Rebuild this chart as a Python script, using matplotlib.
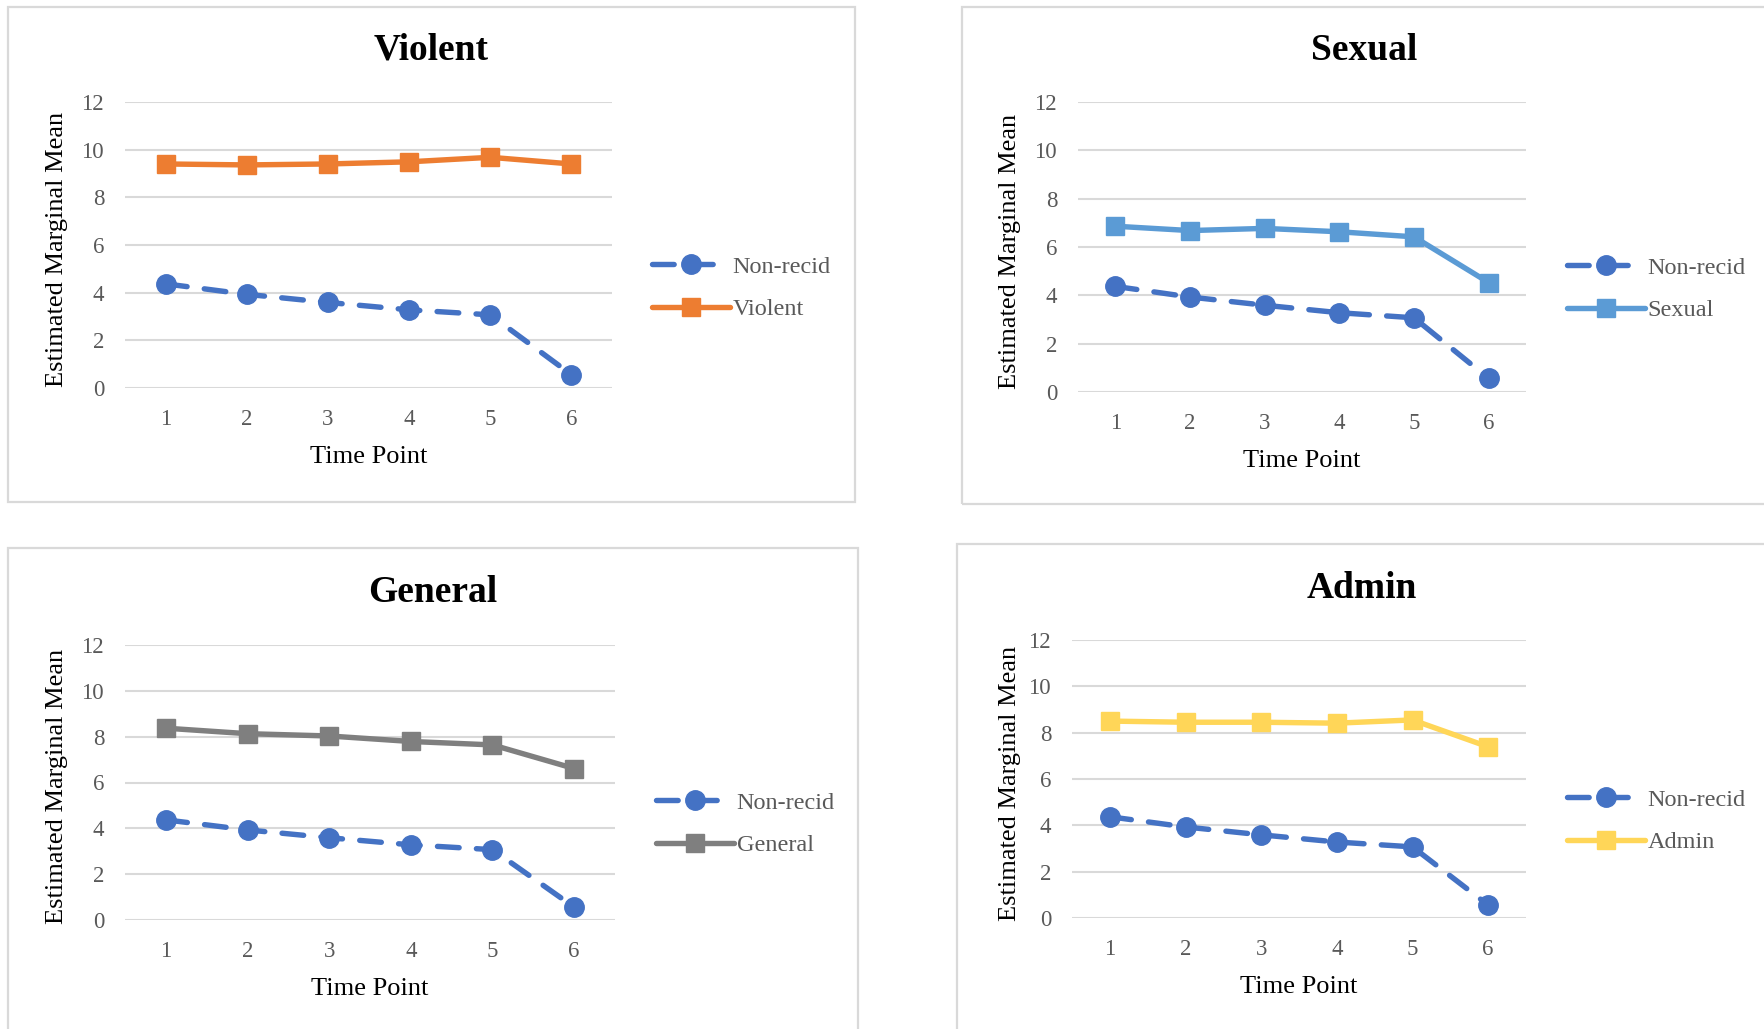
import matplotlib
matplotlib.use("Agg")
import matplotlib.pyplot as plt
from matplotlib.patches import Rectangle

# Estimated marginal means by time point
time_points = [1, 2, 3, 4, 5, 6]
non_recid = [4.37, 3.93, 3.59, 3.28, 3.07, 0.56]
violent = [9.40, 9.36, 9.40, 9.49, 9.68, 9.40]
sexual = [6.86, 6.68, 6.77, 6.63, 6.42, 4.53]
general = [8.37, 8.13, 8.03, 7.79, 7.64, 6.61]
admin = [8.50, 8.45, 8.45, 8.41, 8.55, 7.39]

y_ticks = [0, 2, 4, 6, 8, 10, 12]

plt.rcParams["font.family"] = ["Liberation Serif", "DejaVu Serif"]

W, H = 1764, 1029
fig = plt.figure(figsize=(W / 100, H / 100), dpi=100)


def fx(x):
    return x / W


def fy(y):
    return 1 - y / H


BLUE = "#4472C4"
GRID = "#D9D9D9"
TICK = "#595959"

panels = [
    # title, series, colour, panel box (x0, y0, x1, y1), axes box (x0, y0, x1, y1), legend (x, yc)
    ("Violent", violent, "#ED7D31", (8, 7, 855, 502), (125, 102, 612, 388), (652, 288)),
    ("Sexual", sexual, "#5B9BD5", (962, 7, 1770, 504), (1078, 102, 1526, 392), (1567, 289)),
    ("General", general, "#7F7F7F", (8, 548, 858, 1040), (125, 645, 615, 920), (656, 824)),
    ("Admin", admin, "#FFD658", (957, 544, 1770, 1040), (1072, 640, 1526, 918), (1567, 821)),
]

for title, series, colour, pbox, abox, leg in panels:
    px0, py0, px1, py1 = pbox
    fig.patches.append(Rectangle((fx(px0), fy(py1)), fx(px1 - px0), (py1 - py0) / H,
                                 transform=fig.transFigure, fill=False,
                                 edgecolor=GRID, linewidth=1.6))

    ax0, ay0, ax1, ay1 = abox
    ax = fig.add_axes([fx(ax0), fy(ay1), fx(ax1 - ax0), (ay1 - ay0) / H])
    ax.set_xlim(0.5, 6.5)
    ax.set_ylim(0, 12)
    ax.set_yticks(y_ticks)
    ax.set_xticks(time_points)
    for s in ax.spines.values():
        s.set_visible(False)
    ax.grid(axis="y", color=GRID, linewidth=1.5)
    ax.set_axisbelow(True)
    ax.tick_params(length=0, labelsize=16.5, labelcolor=TICK)
    ax.tick_params(axis="y", pad=15)
    ax.tick_params(axis="x", pad=15)

    ax.plot(time_points, non_recid, color=BLUE, linewidth=3.9,
            linestyle=(0, (4, 3.2)), dash_capstyle="round",
            marker="o", markersize=14, clip_on=False, label="Non-recid", zorder=3)
    ax.plot(time_points, series, color=colour, linewidth=3.9,
            solid_capstyle="round", marker="s", markersize=13.5,
            clip_on=False, label=title, zorder=3)

    # title centred on the panel
    fig.text(fx((px0 + min(px1, 1767)) / 2), fy(ay0 - 52), title,
             ha="center", va="center", fontsize=27, fontweight="bold", color="black")
    fig.text(fx(57 if ax0 < 500 else 1010), fy((ay0 + ay1) / 2 + 4),
             "Estimated Marginal Mean", rotation=90, ha="center", va="center",
             fontsize=19, color="black")
    fig.text(fx((ax0 + ax1) / 2), fy(ay1 + 69), "Time Point",
             ha="center", va="center", fontsize=19, color="black")

    lx, ly = leg
    ax.legend(loc="center left", bbox_to_anchor=(fx(lx), fy(ly)),
              bbox_transform=fig.transFigure, frameon=False, fontsize=17.5,
              handlelength=3.2, handletextpad=0.12, labelspacing=0.85,
              borderpad=0, borderaxespad=0, labelcolor=TICK)

fig.savefig("out.png", dpi=100, facecolor="white")
